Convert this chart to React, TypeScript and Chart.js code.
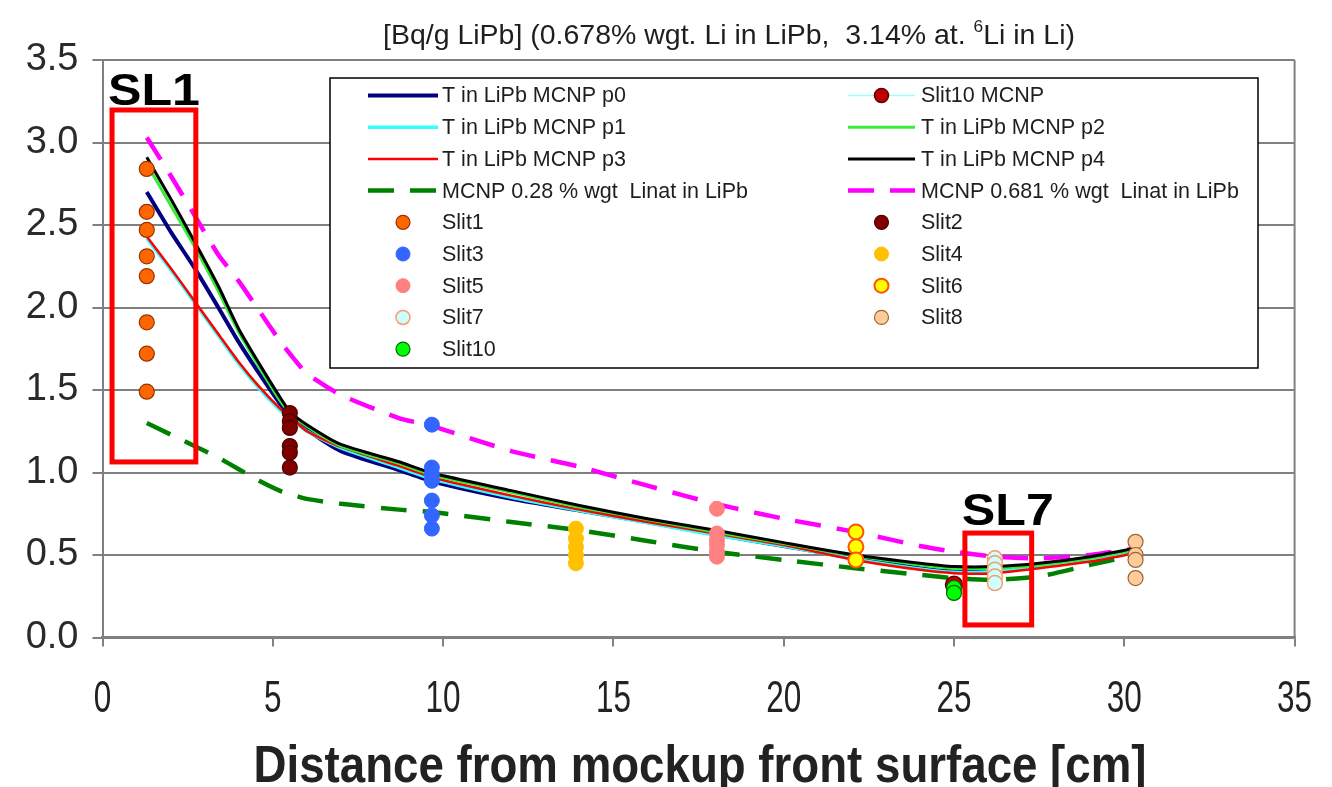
import React, { useEffect, useRef } from 'react';
import { Chart, registerables } from 'chart.js';

Chart.register(...registerables);

// ---------- data ----------
const LINE_X = [1.3, 2.0, 2.7, 3.4, 4.0, 4.6, 5.2, 5.5, 6.0, 7.0, 8.7, 9.7, 12.0, 14.0, 16.0, 18.0, 20.0, 22.1, 24.0, 25.0, 26.2, 27.5, 29.0, 30.3];
const P0 = [2.70, 2.46, 2.24, 2.00, 1.79, 1.60, 1.42, 1.35, 1.26, 1.13, 1.015, 0.945, 0.84, 0.77, 0.70, 0.625, 0.555, 0.48, 0.42, 0.40, 0.40, 0.43, 0.47, 0.52];
const P1 = [2.42, 2.23, 2.03, 1.83, 1.66, 1.51, 1.38, 1.33, 1.25, 1.15, 1.03, 0.96, 0.85, 0.77, 0.695, 0.62, 0.555, 0.475, 0.415, 0.395, 0.40, 0.43, 0.47, 0.52];
const P2 = [2.87, 2.62, 2.37, 2.10, 1.85, 1.64, 1.44, 1.36, 1.28, 1.16, 1.055, 0.985, 0.88, 0.79, 0.715, 0.64, 0.57, 0.495, 0.44, 0.42, 0.42, 0.44, 0.48, 0.53];
const P3 = [2.43, 2.24, 2.04, 1.84, 1.67, 1.52, 1.39, 1.34, 1.25, 1.155, 1.04, 0.97, 0.86, 0.775, 0.70, 0.63, 0.56, 0.47, 0.41, 0.39, 0.39, 0.42, 0.46, 0.51];
const P4 = [2.91, 2.66, 2.40, 2.13, 1.87, 1.66, 1.46, 1.37, 1.29, 1.17, 1.065, 0.995, 0.89, 0.80, 0.72, 0.65, 0.575, 0.50, 0.45, 0.43, 0.43, 0.45, 0.49, 0.54];
const MCNP_028 = [1.30, 1.23, 1.16, 1.09, 1.02, 0.95, 0.89, 0.87, 0.84, 0.81, 0.775, 0.76, 0.70, 0.65, 0.585, 0.52, 0.47, 0.42, 0.38, 0.36, 0.35, 0.37, 0.44, 0.50];
const MCNP_0681 = [3.03, 2.80, 2.56, 2.32, 2.16, 1.98, 1.80, 1.72, 1.60, 1.47, 1.33, 1.28, 1.13, 1.035, 0.92, 0.81, 0.72, 0.64, 0.555, 0.52, 0.49, 0.48, 0.50, 0.54];

const SLIT1_X = 1.3;
const SLIT1 = [2.84, 2.58, 2.47, 2.31, 2.19, 1.91, 1.72, 1.49];
const SLIT2_X = 5.5;
const SLIT2 = [1.36, 1.31, 1.27, 1.16, 1.12, 1.03];
const SLIT3_X = 9.67;
const SLIT3 = [1.29, 1.03, 0.99, 0.95, 0.83, 0.74, 0.66];
const SLIT4_X = 13.9;
const SLIT4 = [0.66, 0.60, 0.55, 0.50, 0.45];
const SLIT5_X = 18.04;
const SLIT5 = [0.78, 0.63, 0.59, 0.56, 0.52, 0.49];
const SLIT6_X = 22.12;
const SLIT6 = [0.64, 0.55, 0.47];
const SLIT7_X = 26.2;
const SLIT7 = [0.48, 0.45, 0.41, 0.37, 0.33];
const SLIT8_X = 30.33;
const SLIT8 = [0.58, 0.50, 0.47, 0.36];
const SLIT10_X = 25.0;
const SLIT10 = [0.30, 0.27];
const SLIT10_MCNP_X = 25.0;
const SLIT10_MCNP = [0.32];

const X_TICKS_STEP = 5;
const Y_TICKS_STEP = 0.5;

const LEGEND_COL1 = ['T in LiPb MCNP p0', 'T in LiPb MCNP p1', 'T in LiPb MCNP p3', 'MCNP 0.28 % wgt  Linat in LiPb', 'Slit1', 'Slit3', 'Slit5', 'Slit7', 'Slit10'];
const LEGEND_COL2 = ['Slit10 MCNP', 'T in LiPb MCNP p2', 'T in LiPb MCNP p4', 'MCNP 0.681 % wgt  Linat in LiPb', 'Slit2', 'Slit4', 'Slit6', 'Slit8'];

const TITLE_A = '[Bq/g LiPb] (0.678% wgt. Li in LiPb,  3.14% at. ';
const TITLE_SUP = '6';
const TITLE_B = 'Li in Li)';
const X_TITLE = 'Distance from mockup front surface [cm]';

// annotation boxes in data units
const ANNOTATIONS = [
  { text: 'SL1', x0: 0.28, x1: 2.74, y0: 1.064, y1: 3.197, tx: 1.51, ty: 3.23 },
  { text: 'SL7', x0: 25.32, x1: 27.28, y0: 0.076, y1: 0.633, tx: 26.58, ty: 0.68 },
];

const FONT = '"Liberation Sans", Arial, sans-serif';

const toPts = (xs: number[], ys: number[]) => xs.map((x, i) => ({ x, y: ys[i] }));
const colPts = (x: number, ys: number[]) => ys.map((y) => ({ x, y }));

function lineDs(label: string, ys: number[], color: string, width: number, order: number, dash?: number[]) {
  return {
    label,
    data: toPts(LINE_X, ys),
    showLine: true,
    borderColor: color,
    backgroundColor: color,
    borderWidth: width,
    borderDash: dash || [],
    pointRadius: 0,
    pointHoverRadius: 0,
    tension: 0.2,
    order,
  };
}

function pointDs(label: string, x: number, ys: number[], fill: string, border: string, bw: number, order: number) {
  return {
    label,
    data: colPts(x, ys),
    showLine: false,
    backgroundColor: fill,
    borderColor: border,
    borderWidth: bw,
    pointRadius: 7.5,
    pointHoverRadius: 7.5,
    pointStyle: 'circle',
    order,
  };
}

function drawScaledText(ctx: CanvasRenderingContext2D, text: string, cx: number, y: number, font: string, hscale: number) {
  ctx.save();
  ctx.font = font;
  ctx.translate(cx, y);
  ctx.scale(hscale, 1);
  ctx.fillText(text, 0, 0);
  ctx.restore();
}

const decorPlugin = {
  id: 'decor',
  afterDraw(chart: any) {
    const ctx: CanvasRenderingContext2D = chart.ctx;
    const xs = chart.scales.x;
    const ys = chart.scales.y;
    const ca = chart.chartArea;
    ctx.save();

    // right border of plot area
    ctx.strokeStyle = '#808080';
    ctx.lineWidth = 2;
    ctx.beginPath();
    ctx.moveTo(ca.right, ca.top);
    ctx.lineTo(ca.right, ca.bottom);
    ctx.stroke();

    // x tick labels (condensed)
    ctx.fillStyle = '#222';
    ctx.textAlign = 'center';
    ctx.textBaseline = 'middle';
    xs.ticks.forEach((t: any) => {
      const px = xs.getPixelForValue(t.value);
      drawScaledText(ctx, String(t.value), px, 700, `45px ${FONT}`, 0.7);
    });

    // x title (condensed bold)
    ctx.textBaseline = 'alphabetic';
    ctx.font = `bold 52px ${FONT}`;
    const xtw = ctx.measureText(X_TITLE).width;
    drawScaledText(ctx, X_TITLE, 700, 782, `bold 52px ${FONT}`, 893 / xtw);

    // top title with superscript
    ctx.font = `28px ${FONT}`;
    const wa = ctx.measureText(TITLE_A).width;
    const wb = ctx.measureText(TITLE_B).width;
    ctx.font = `17px ${FONT}`;
    const ws = ctx.measureText(TITLE_SUP).width;
    const total = wa + wb + ws;
    const sc = 692 / total;
    ctx.save();
    ctx.fillStyle = '#1e1e1e';
    ctx.translate(383, 44);
    ctx.scale(sc, 1);
    ctx.textAlign = 'left';
    ctx.font = `28px ${FONT}`;
    ctx.fillText(TITLE_A, 0, 0);
    ctx.font = `17px ${FONT}`;
    ctx.fillText(TITLE_SUP, wa, -12);
    ctx.font = `28px ${FONT}`;
    ctx.fillText(TITLE_B, wa + ws, 0);
    ctx.restore();

    // legend box
    const bx = 330, by = 78, bw = 928, bh = 290;
    ctx.fillStyle = '#ffffff';
    ctx.fillRect(bx, by, bw, bh);
    ctx.strokeStyle = '#000000';
    ctx.lineWidth = 1.5;
    ctx.strokeRect(bx, by, bw, bh);
    const cols = [
      { items: LEGEND_COL1, x0: 368, x1: 438, tx: 442 },
      { items: LEGEND_COL2, x0: 848, x1: 915, tx: 921 },
    ];
    const rowY0 = 95.5;
    const rowH = 31.7;
    cols.forEach((col) => {
      col.items.forEach((label, i) => {
        const ds = chart.data.datasets.find((d: any) => d.label === label);
        if (!ds) return;
        const y = rowY0 + i * rowH;
        if (ds.showLine) {
          ctx.save();
          ctx.strokeStyle = ds.borderColor;
          ctx.lineWidth = ds.borderWidth;
          ctx.setLineDash(ds.borderDash || []);
          ctx.beginPath();
          ctx.moveTo(col.x0, y);
          ctx.lineTo(col.x1, y);
          ctx.stroke();
          ctx.restore();
        }
        if (ds.pointRadius > 0) {
          const cx = (col.x0 + col.x1) / 2;
          ctx.save();
          ctx.beginPath();
          ctx.arc(cx, y, 7, 0, Math.PI * 2);
          ctx.fillStyle = ds.pointBackgroundColor || ds.backgroundColor;
          ctx.fill();
          ctx.lineWidth = ds.pointBorderWidth || ds.borderWidth;
          ctx.strokeStyle = ds.pointBorderColor || ds.borderColor;
          ctx.stroke();
          ctx.restore();
        }
        ctx.fillStyle = '#1e1e1e';
        ctx.font = `21.5px ${FONT}`;
        ctx.textAlign = 'left';
        ctx.textBaseline = 'middle';
        ctx.fillText(label, col.tx, y + 1);
      });
    });

    // SL annotations
    ANNOTATIONS.forEach((a) => {
      const l = xs.getPixelForValue(a.x0);
      const r = xs.getPixelForValue(a.x1);
      const t = ys.getPixelForValue(a.y1);
      const b = ys.getPixelForValue(a.y0);
      ctx.strokeStyle = '#ff0000';
      ctx.lineWidth = 5;
      ctx.setLineDash([]);
      ctx.strokeRect(l, t, r - l, b - t);
      ctx.fillStyle = '#000000';
      ctx.textAlign = 'center';
      ctx.textBaseline = 'alphabetic';
      ctx.font = `bold 44px ${FONT}`;
      const w = ctx.measureText(a.text).width;
      drawScaledText(ctx, a.text, xs.getPixelForValue(a.tx), ys.getPixelForValue(a.ty), `bold 44px ${FONT}`, 92 / w);
    });

    ctx.restore();
  },
};

export default function App() {
  const ref = useRef<HTMLCanvasElement | null>(null);

  useEffect(() => {
    if (!ref.current) return;
    const datasets: any[] = [
      lineDs('T in LiPb MCNP p0', P0, '#000080', 4, 16),
      {
        label: 'Slit10 MCNP',
        data: colPts(SLIT10_MCNP_X, SLIT10_MCNP),
        showLine: true,
        borderColor: '#99FFFF',
        borderWidth: 1.5,
        backgroundColor: '#E00000',
        pointBackgroundColor: '#C00000',
        pointBorderColor: '#600000',
        pointBorderWidth: 1.5,
        pointRadius: 8.5,
        pointHoverRadius: 8.5,
        order: 2,
      },
      lineDs('T in LiPb MCNP p1', P1, '#33FFFF', 3.5, 15),
      lineDs('T in LiPb MCNP p2', P2, '#33EE33', 3, 13),
      lineDs('T in LiPb MCNP p3', P3, '#FF0000', 2.5, 14),
      lineDs('T in LiPb MCNP p4', P4, '#000000', 3, 12),
      lineDs('MCNP 0.28 % wgt  Linat in LiPb', MCNP_028, '#008000', 4.5, 18, [26, 16]),
      lineDs('MCNP 0.681 % wgt  Linat in LiPb', MCNP_0681, '#FF00FF', 4.5, 17, [26, 16]),
      pointDs('Slit1', SLIT1_X, SLIT1, '#FF6600', '#993300', 1.2, 1),
      pointDs('Slit2', SLIT2_X, SLIT2, '#800000', '#4d0000', 1.2, 1),
      pointDs('Slit3', SLIT3_X, SLIT3, '#3366FF', '#3366FF', 1, 1),
      pointDs('Slit4', SLIT4_X, SLIT4, '#FFC000', '#FFC000', 1, 1),
      pointDs('Slit5', SLIT5_X, SLIT5, '#FF8080', '#FF8080', 1, 1),
      pointDs('Slit6', SLIT6_X, SLIT6, '#FFFF00', '#FF5500', 2, 1),
      pointDs('Slit7', SLIT7_X, SLIT7, '#CCFFFF', '#FF9966', 1.5, 1),
      pointDs('Slit8', SLIT8_X, SLIT8, '#FFCC99', '#996633', 1.2, 1),
      pointDs('Slit10', SLIT10_X, SLIT10, '#00FF00', '#006600', 1.2, 0),
    ];

    const chart = new Chart(ref.current, {
      type: 'scatter',
      data: { datasets },
      options: {
        responsive: false,
        animation: false,
        devicePixelRatio: 1,
        layout: { padding: { top: 60, right: 37.4, bottom: 0, left: 0 } },
        plugins: {
          legend: { display: false },
          title: { display: false },
          tooltip: { enabled: false },
        },
        scales: {
          x: {
            type: 'linear',
            min: 0,
            max: 35,
            ticks: { stepSize: X_TICKS_STEP, color: 'rgba(0,0,0,0)', font: { size: 10 }, maxRotation: 0 },
            grid: { drawOnChartArea: false, drawTicks: true, tickLength: 9, color: '#808080', lineWidth: 2 },
            border: { color: '#808080', width: 2.5 },
            afterFit: (s: any) => { s.height = 149.5; },
          },
          y: {
            type: 'linear',
            min: 0,
            max: 3.5,
            ticks: {
              stepSize: Y_TICKS_STEP,
              color: '#2a2a2a',
              font: { family: FONT, size: 38 },
              padding: 14,
              callback: (v: any) => Number(v).toFixed(1),
            },
            grid: { color: '#808080', lineWidth: 2, tickLength: 10 },
            border: { color: '#808080', width: 2 },
            afterFit: (s: any) => { s.width = 102.5; },
          },
        },
      },
      plugins: [decorPlugin],
    } as any);

    return () => chart.destroy();
  }, []);

  return (
    <div style={{ position: 'absolute', left: 0, top: 0, width: 1332, height: 787, background: '#fff' }}>
      <canvas ref={ref} width={1332} height={787} style={{ display: 'block' }} />
    </div>
  );
}
